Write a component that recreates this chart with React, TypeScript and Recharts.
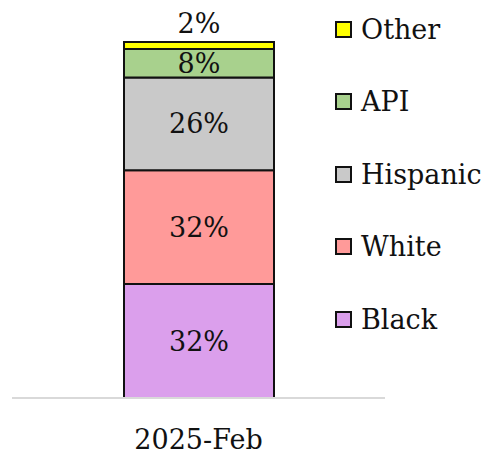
import { BarChart, Bar, XAxis, YAxis, LabelList } from "recharts";

const categories = ["2025-Feb"];
const black = [32];
const white = [32];
const hispanic = [26];
const api = [8];
const other = [2];

const seriesKeys = ["Black", "White", "Hispanic", "API", "Other"];
const seriesColors: Record<string, string> = {
  Black: "#DB9FEC",
  White: "#FF9A99",
  Hispanic: "#C9C9C9",
  API: "#A8D18D",
  Other: "#FFFF00",
};

const data = categories.map((c, i) => ({
  name: c,
  Black: black[i],
  White: white[i],
  Hispanic: hispanic[i],
  API: api[i],
  Other: other[i],
}));

const FONT = "'DejaVu Serif', serif";
const FS = 27;

// legend sits right of the plot, top to bottom in stack order reversed
const LegendBox = () => (
  <div style={{ position: "absolute", left: 335, top: -7, fontFamily: FONT, fontSize: 27, color: "#111" }}>
    {[...seriesKeys].reverse().map((k) => (
      <div key={k} style={{ display: "flex", alignItems: "center", height: 72.5 }}>
        <span
          style={{
            width: 17,
            height: 17,
            background: seriesColors[k],
            border: "2px solid #111",
            marginRight: 9,
            boxSizing: "border-box",
            display: "inline-block",
          }}
        />
        <span>{k}</span>
      </div>
    ))}
  </div>
);

export default function App() {
  return (
    <div style={{ position: "absolute", left: 0, top: 0, width: 487, height: 455, background: "#fff" }}>
      <BarChart width={487} height={455} data={data} margin={{ top: 42, right: 102, bottom: 7, left: 12 }}>
        <XAxis
          dataKey="name"
          axisLine={{ stroke: "#d9d9d9", strokeWidth: 2 }}
          tickLine={false}
          tick={{ fontSize: FS, fill: "#111", fontFamily: FONT }}
          tickMargin={26}
          height={50}
        />
        <YAxis hide domain={[0, 100]} />
        {seriesKeys.map((k) => (
          <Bar
            key={k}
            dataKey={k}
            stackId="a"
            fill={seriesColors[k]}
            stroke="#111"
            strokeWidth={2}
            barSize={150}
            isAnimationActive={false}
          >
            <LabelList
              dataKey={k}
              position={k === "Other" ? "top" : "center"}
              offset={9}
              formatter={(v: any) => `${v}%`}
              style={{ fontSize: FS, fill: "#111", fontFamily: FONT }}
            />
          </Bar>
        ))}
      </BarChart>
      <LegendBox />
    </div>
  );
}
